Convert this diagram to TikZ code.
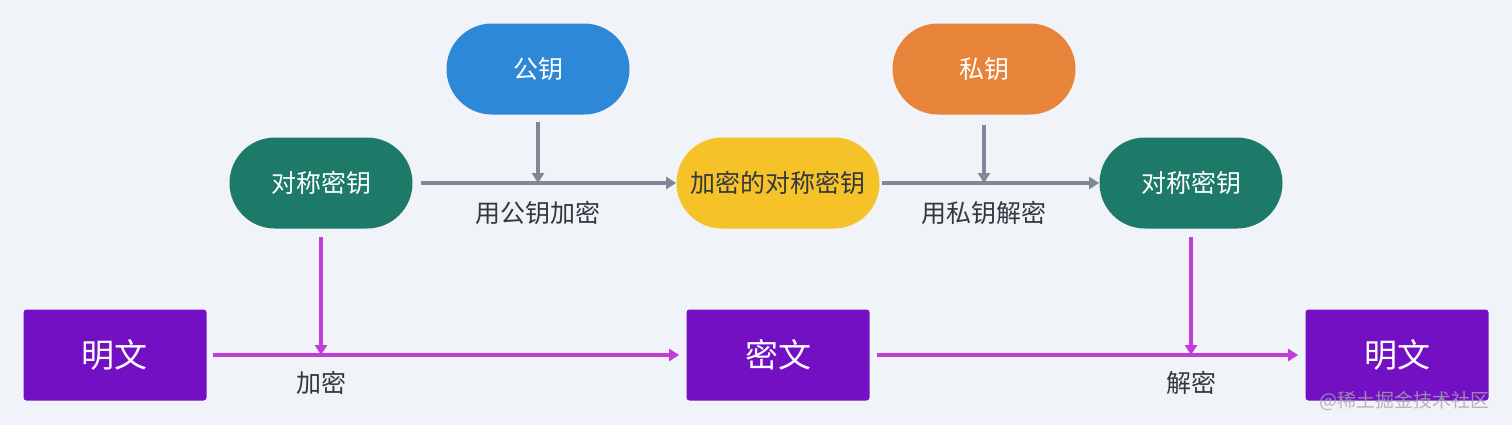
\documentclass[tikz,border=0pt]{standalone}
\usepackage{fontspec}
\setmainfont{Noto Sans CJK SC}
\usepackage{xcolor}
\usetikzlibrary{arrows.meta}
\definecolor{bgcol}{HTML}{F0F3F7}
\definecolor{keyblue}{HTML}{2E88D8}
\definecolor{keyorange}{HTML}{E8843A}
\definecolor{keygreen}{HTML}{1E7A68}
\definecolor{keyyellow}{HTML}{F5C228}
\definecolor{textpurple}{HTML}{7310C4}
\definecolor{flowgrey}{HTML}{7F8896}
\definecolor{flowpurple}{HTML}{C23DD6}
\definecolor{labelgrey}{HTML}{333840}
\tikzset{
  pill/.style={rectangle,rounded corners=22.75pt,minimum width=91.5pt,
    minimum height=45.5pt,inner sep=0pt,text=white,font=\fontsize{12.5}{14}\selectfont},
  msgbox/.style={rectangle,rounded corners=1.5pt,fill=textpurple,minimum width=91.5pt,
    minimum height=45.5pt,inner sep=0pt,text=white,font=\fontsize{16.5}{19}\selectfont},
  keyflow/.style={draw=flowgrey,line width=1.8pt,-{Triangle[length=5pt,width=6pt]}},
  msgflow/.style={draw=flowpurple,line width=1.6pt,-{Triangle[length=5pt,width=6pt]}},
  steplabel/.style={text=labelgrey,font=\fontsize{12.5}{14}\selectfont},
}
\begin{document}
\begin{tikzpicture}[x=0.5pt,y=-0.5pt]
  \fill[bgcol] (0,0) rectangle (1512,425);
  \useasboundingbox (0,0) rectangle (1512,425);
  % the keys
  \node[pill,fill=keyblue] (pub) at (538,69) {公钥};
  \node[pill,fill=keyorange] (priv) at (984,69) {私钥};
  \node[pill,fill=keygreen] (symL) at (321,183) {对称密钥};
  \node[pill,fill=keyyellow,minimum width=101.5pt,text=labelgrey] (symEnc) at (778,183) {加密的对称密钥};
  \node[pill,fill=keygreen] (symR) at (1191,183) {对称密钥};
  % the messages
  \node[msgbox] (plainL) at (115,355) {明文};
  \node[msgbox] (cipher) at (778,355) {密文};
  \node[msgbox] (plainR) at (1397,355) {明文};
  % where the side arrows meet the main lines
  \coordinate (pubHit) at (pub |- symL);
  \coordinate (privHit) at (priv |- symL);
  \coordinate (encHit) at (symL |- plainL);
  \coordinate (decHit) at (symR |- plainL);
  % wrapping the symmetric key
  \draw[keyflow,shorten <=4pt] (symL.east) -- (symEnc.west);
  \draw[keyflow,shorten <=3.5pt] (pub.south) -- (pubHit);
  \node[steplabel] (pubLbl) at (538,213) {用公钥加密};
  \draw[keyflow,shorten <=1pt] (symEnc.east) -- (symR.west);
  \draw[keyflow,shorten <=5pt] (priv.south) -- (privHit);
  \node[steplabel] (privLbl) at (984,213) {用私钥解密};
  % the message itself
  \draw[msgflow,shorten <=3pt,shorten >=3.5pt] (plainL.east) -- (cipher.west);
  \draw[msgflow,shorten <=4pt] (symL.south) -- (encHit);
  \node[steplabel] (encLbl) at (321,383) {加密};
  \draw[msgflow,shorten <=3.5pt,shorten >=3.5pt] (cipher.east) -- (plainR.west);
  \draw[msgflow,shorten <=4pt] (symR.south) -- (decHit);
  \node[steplabel] (decLbl) at (1191,383) {解密};
  % watermark
  \node[text=gray!70,opacity=0.8,font=\fontsize{9.5}{10}\selectfont,anchor=east] (mark) at (1497,401) {@稀土掘金技术社区};
\end{tikzpicture}
\end{document}
